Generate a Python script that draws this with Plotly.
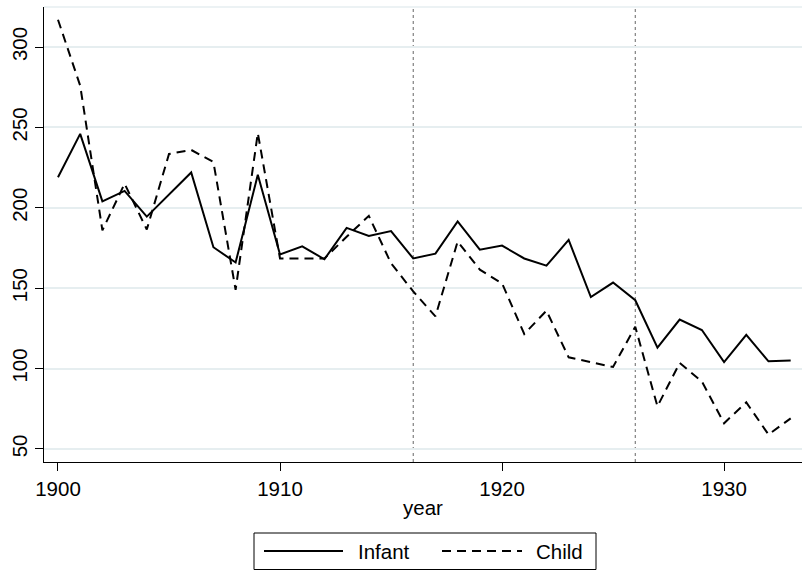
import plotly.graph_objects as go

years = list(range(1900, 1934))
infant = [219, 246, 204, 210.5, 194.5, 208, 222, 175.5, 166, 220.5,
          171, 176, 168, 187.5, 182.5, 185.5, 168.5, 171.5, 191.5, 174,
          176.5, 168.5, 164, 180, 144.5, 153.5, 142.5, 113, 130.5, 124,
          104, 121, 104.5, 105]
child = [317, 276, 186, 215, 186.5, 233.5, 236, 228.5, 149, 246.5,
         168.5, 168.5, 168.5, 182, 195, 165.5, 148, 132.5, 179, 161.5,
         153, 121.5, 136, 107, 104, 101, 126, 76.5, 103.5, 92,
         66, 79, 59, 69]
ref_years = [1916, 1926]
x_ticks = [1900, 1910, 1920, 1930]
y_ticks = [50, 100, 150, 200, 250, 300]

FONT = "Liberation Sans, Arial, Helvetica, sans-serif"
FS = 20.5
W, H = 802, 571
ML, MR, MT, MB = 44, 0, 7, 109
PW, PH = W - ML - MR, H - MT - MB

def px_x(p):
    return (p - ML) / PW

def px_y(p):
    return (H - MB - p) / PH

fig = go.Figure()
fig.add_trace(go.Scatter(x=years, y=infant, mode="lines", name="Infant",
                         line=dict(color="black", width=2), showlegend=False))
fig.add_trace(go.Scatter(x=years, y=child, mode="lines", name="Child",
                         line=dict(color="black", width=2, dash="9px,6px"), showlegend=False))

for ry in ref_years:
    fig.add_vline(x=ry, line=dict(color="#666666", width=1, dash="dot"), layer="below")

# top border of plot region
fig.add_shape(type="line", xref="paper", yref="paper", x0=0, x1=1, y0=1, y1=1,
              line=dict(color="#e6eef0", width=1.5), layer="below")

# manual legend
fig.add_shape(type="rect", xref="paper", yref="paper",
              x0=px_x(254), x1=px_x(596), y0=px_y(569.5), y1=px_y(533),
              line=dict(color="black", width=1), fillcolor="white")
fig.add_shape(type="line", xref="paper", yref="paper",
              x0=px_x(264), x1=px_x(343), y0=px_y(551), y1=px_y(551),
              line=dict(color="black", width=2))
fig.add_shape(type="line", xref="paper", yref="paper",
              x0=px_x(442), x1=px_x(522), y0=px_y(551), y1=px_y(551),
              line=dict(color="black", width=2, dash="9px,6px"))
for label, xp in [("Infant", 356), ("Child", 534)]:
    fig.add_annotation(text=label, xref="paper", yref="paper", x=px_x(xp), y=px_y(551),
                       xanchor="left", yanchor="middle", showarrow=False,
                       font=dict(family=FONT, size=FS, color="black"))

fig.update_layout(
    width=W, height=H,
    margin=dict(l=ML, r=MR, t=MT, b=MB, autoexpand=False),
    paper_bgcolor="white", plot_bgcolor="white",
    font=dict(family=FONT, size=FS, color="black"),
    showlegend=False,
)
fig.update_xaxes(range=[1899.37, 1933.51], tickvals=x_ticks, ticks="outside", ticklen=8,
                 tickwidth=1, tickcolor="black", showline=True, linecolor="black", linewidth=1,
                 showgrid=False, zeroline=False, automargin=False,
                 title=dict(text="year", standoff=2, font=dict(size=FS)))
fig.update_yaxes(range=[41.9, 324.9], tickvals=y_ticks, ticks="outside", ticklen=8,
                 tickwidth=1, tickcolor="black", showline=True, linecolor="black", linewidth=1,
                 showgrid=True, gridcolor="#e6eef0", gridwidth=1.5, zeroline=False,
                 tickangle=-90, automargin=False)

fig.write_html("out.html", config={"displayModeBar": False},
               post_script="document.body.style.margin='0';document.body.style.overflow='hidden';")
